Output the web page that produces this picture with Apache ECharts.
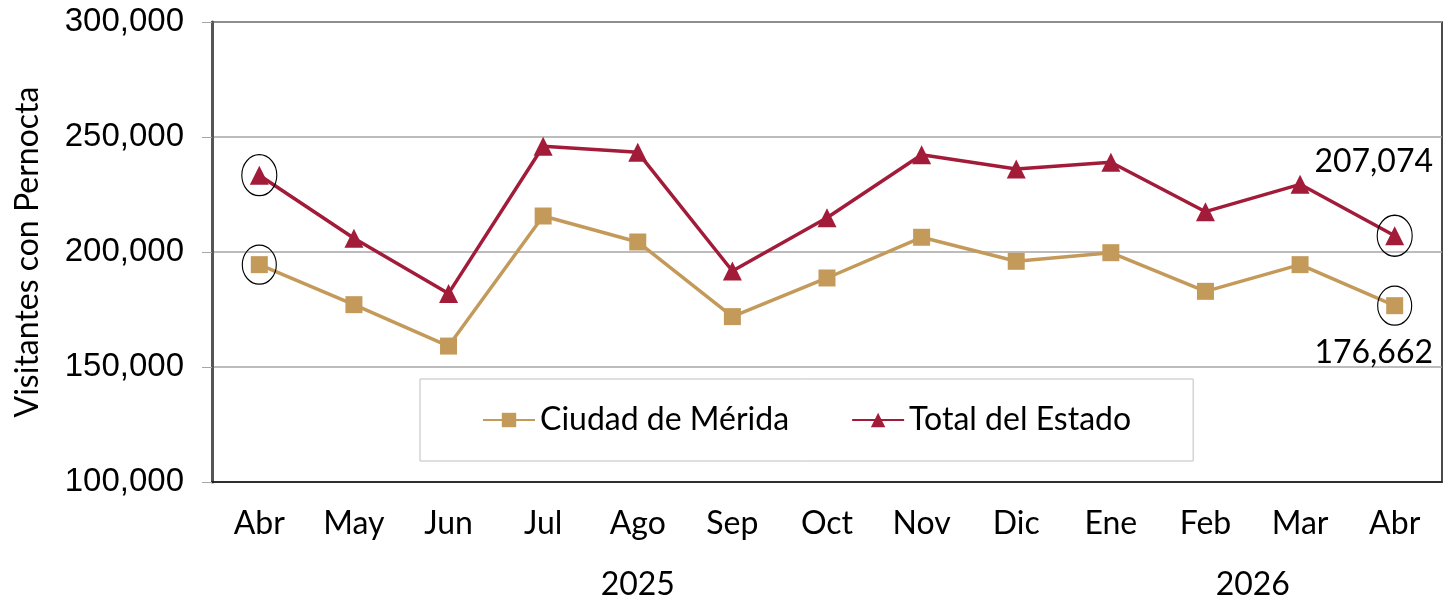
<!DOCTYPE html>
<html>
<head>
<meta charset="utf-8">
<script src="https://cdn.jsdelivr.net/npm/echarts@6/dist/echarts.min.js"></script>
<style>
  html, body { margin: 0; padding: 0; background: #fff; }
  #chart { width: 1450px; height: 602px; }
</style>
</head>
<body>
<div id="chart"></div>
<script>
// 月份（2025年4月 - 2026年4月）
var months = ['Abr', 'May', 'Jun', 'Jul', 'Ago', 'Sep', 'Oct', 'Nov', 'Dic', 'Ene', 'Feb', 'Mar', 'Abr'];
var merida = [194500, 177100, 159100, 215650, 204350, 171900, 188700, 206400, 195950, 199700, 182900, 194500, 176662];
var total = [233400, 205950, 182000, 245950, 243350, 191740, 214900, 242300, 236100, 239000, 217530, 229430, 207074];
var years = ['2025', '2026'];
// 每个年份覆盖的月份下标范围
var yearSpans = [[0, 8], [9, 12]];
var yTicks = [100000, 150000, 200000, 250000, 300000];
// 圈出的点：第一个和最后一个
var circled = [0, 12];

var yearCenters = yearSpans.map(function (s) { return (s[0] + s[1]) / 2; });

function fmt (v) {
  return String(v).replace(/\B(?=(\d{3})+(?!\d))/g, ',');
}

function circleMarks (arr) {
  return circled.map(function (i) {
    return { coord: [i, arr[i]] };
  });
}

function withLastLabel (arr, offset) {
  return arr.map(function (v, i) {
    if (i !== arr.length - 1) return v;
    return {
      value: v,
      label: {
        show: true,
        position: 'inside',
        offset: offset,
        formatter: function (p) { return fmt(p.value); },
        fontFamily: 'Lato',
        fontSize: 32,
        color: '#000'
      }
    };
  });
}

var myChart = echarts.init(document.getElementById('chart'));
var option = {
  animation: false,
  grid: {
    left: 212,
    right: 8,
    top: 22,
    bottom: 120,
    show: true,
    borderColor: '#111',
    borderWidth: 1.5
  },
  legend: {
    left: 420,
    top: 379,
    backgroundColor: '#fff',
    borderColor: '#bfbfbf',
    borderWidth: 1,
    padding: [25, 62, 25, 62],
    itemGap: 62,
    itemWidth: 52,
    itemHeight: 18,
    textStyle: {
      fontFamily: 'Lato',
      fontSize: 32,
      color: '#000'
    },
    data: ['Ciudad de Mérida', 'Total del Estado']
  },
  xAxis: [{
    type: 'category',
    data: months,
    boundaryGap: true,
    axisLine: {
      show: true,
      lineStyle: { color: '#111', width: 1.5 }
    },
    axisTick: { show: false },
    axisLabel: {
      margin: 26,
      fontFamily: 'Lato',
      fontSize: 32,
      color: '#000'
    }
  }, {
    // 年份标签
    type: 'value',
    position: 'bottom',
    min: -0.5,
    max: 12.5,
    axisLine: { show: false },
    axisTick: { show: false },
    splitLine: { show: false },
    axisLabel: {
      margin: 87,
      customValues: yearCenters,
      formatter: function (v) {
        var i = yearCenters.indexOf(v);
        return i >= 0 ? years[i] : '';
      },
      fontFamily: 'Lato',
      fontSize: 32,
      color: '#000'
    }
  }],
  yAxis: [{
    type: 'value',
    min: yTicks[0],
    max: yTicks[yTicks.length - 1],
    interval: yTicks[1] - yTicks[0],
    name: 'Visitantes con Pernocta',
    nameLocation: 'middle',
    nameGap: 168,
    nameTextStyle: {
      fontFamily: 'Lato',
      fontSize: 32,
      color: '#000'
    },
    axisLine: {
      show: true,
      onZero: false,
      lineStyle: { color: '#555', width: 3 }
    },
    axisTick: {
      show: true,
      length: 10,
      lineStyle: { color: '#a6a6a6', width: 1 }
    },
    axisLabel: {
      margin: 28,
      formatter: function (v) { return fmt(v); },
      fontFamily: 'Liberation Sans',
      fontSize: 33,
      color: '#000'
    },
    splitLine: {
      show: true,
      lineStyle: { color: '#a6a6a6', width: 1.5 }
    }
  }],
  series: [{
    name: 'Ciudad de Mérida',
    type: 'line',
    xAxisIndex: 0,
    data: withLastLabel(merida, [-21, 47]),
    symbol: 'rect',
    symbolSize: 17,
    lineStyle: { color: '#C49A5B', width: 3.5 },
    itemStyle: { color: '#C49A5B' },
    markPoint: {
      symbol: 'circle',
      symbolSize: [34, 39],
      itemStyle: { color: 'rgba(0,0,0,0)', borderColor: '#000', borderWidth: 1.2 },
      label: { show: false },
      data: circleMarks(merida)
    },
    z: 3
  }, {
    name: 'Total del Estado',
    type: 'line',
    xAxisIndex: 0,
    data: withLastLabel(total, [-21, -74]),
    symbol: 'triangle',
    symbolSize: 19,
    lineStyle: { color: '#A21C3A', width: 3.5 },
    itemStyle: { color: '#A21C3A' },
    markPoint: {
      symbol: 'circle',
      symbolSize: [35, 41],
      itemStyle: { color: 'rgba(0,0,0,0)', borderColor: '#000', borderWidth: 1.2 },
      label: { show: false },
      data: circleMarks(total)
    },
    z: 4
  }]
};
myChart.setOption(option);
</script>
</body>
</html>
